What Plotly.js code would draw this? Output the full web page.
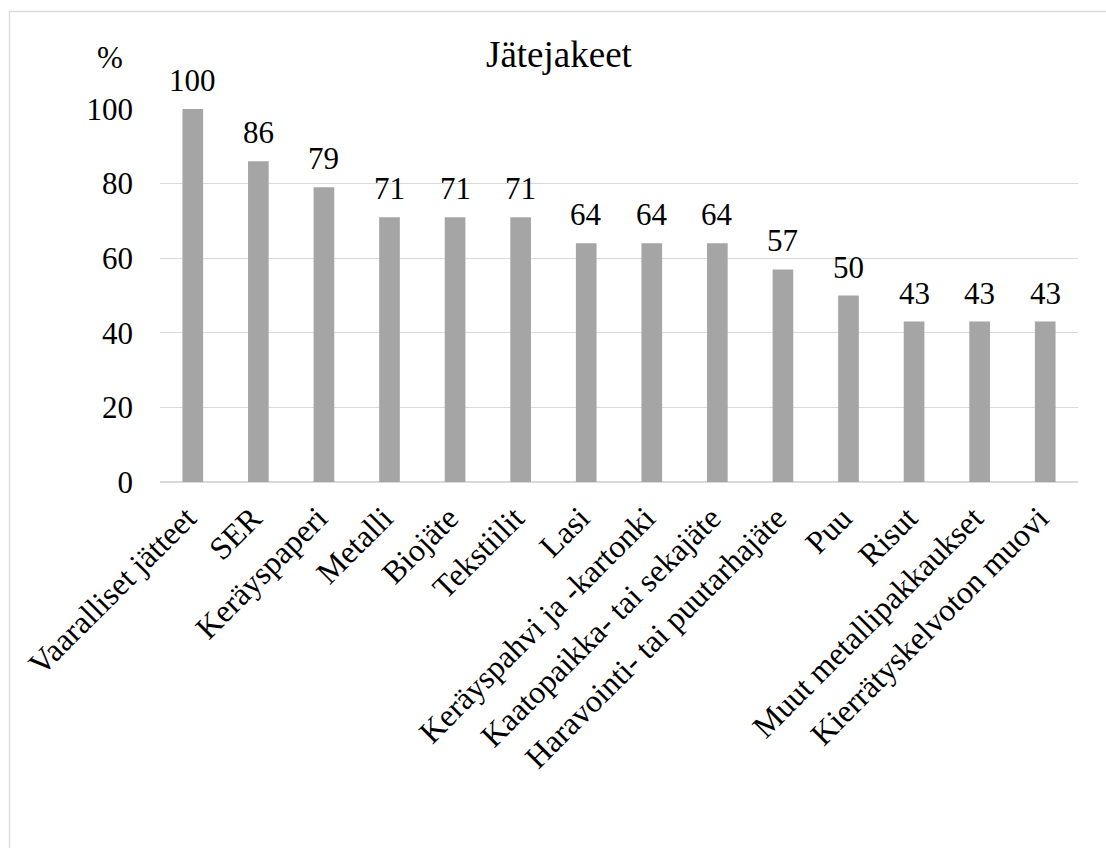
<!DOCTYPE html>
<html>
<head>
<meta charset="utf-8">
<script src="https://cdn.plot.ly/plotly-3.0.1.min.js"></script>
<style>
  html, body { margin: 0; padding: 0; background: #fff; }
  #chart { width: 1106px; height: 848px; }
</style>
</head>
<body>
<div id="chart"></div>
<script>
// Jätejakeet – osuus (%)
const categories = [
  'Vaaralliset jätteet', 'SER', 'Keräyspaperi', 'Metalli', 'Biojäte',
  'Tekstiilit', 'Lasi', 'Keräyspahvi ja -kartonki', 'Kaatopaikka- tai sekajäte',
  'Haravointi- tai puutarhajäte', 'Puu', 'Risut', 'Muut metallipakkaukset',
  'Kierrätyskelvoton muovi'
];
const values = [100, 86, 79, 71, 71, 71, 64, 64, 64, 57, 50, 43, 43, 43];
const yTicks = [0, 20, 40, 60, 80, 100];

const FONT = '"Liberation Serif", "Times New Roman", serif';
const W = 1106, H = 848;
const L = 160, R = 28, T = 109, B = 366;
const pw = W - L - R, ph = H - T - B;
const px = v => (v - L) / pw;          // pixel x -> paper x
const py = v => (H - B - v) / ph;      // pixel y -> paper y

const trace = {
  type: 'bar',
  x: categories,
  y: values,
  marker: { color: '#a5a5a5', line: { width: 0 } },
  hoverinfo: 'x+y'
};

// value labels above each bar
const valueLabels = categories.map((c, i) => ({
  x: c, y: values[i], xref: 'x', yref: 'y',
  text: String(values[i]), showarrow: false,
  yanchor: 'bottom', yshift: 9,
  font: { family: FONT, size: 31, color: '#000' }
}));

const layout = {
  width: W, height: H,
  margin: { l: L, r: R, t: T, b: B },
  paper_bgcolor: '#fff',
  plot_bgcolor: '#fff',
  showlegend: false,
  bargap: 0.685,
  font: { family: FONT, size: 31, color: '#000' },
  xaxis: {
    type: 'category',
    tickangle: -45,
    showgrid: false,
    showline: false,
    ticks: '',
    ticklabelstandoff: 10,
    ticklabelshift: -6,
    tickfont: { family: FONT, size: 32, color: '#000' },
    automargin: false
  },
  yaxis: {
    range: [0, 100],
    tickvals: yTicks,
    ticktext: yTicks.map(String),
    showgrid: true,
    gridcolor: '#d9d9d9',
    gridwidth: 1.3,
    zeroline: true,
    zerolinecolor: '#d9d9d9',
    zerolinewidth: 1.3,
    showline: false,
    ticks: '',
    ticklabelstandoff: 26,
    tickfont: { family: FONT, size: 31, color: '#000' },
    automargin: false
  },
  annotations: valueLabels.concat([
    {
      text: 'Jätejakeet', xref: 'paper', yref: 'paper',
      x: px(559), y: py(55), xanchor: 'center', yanchor: 'middle',
      showarrow: false, font: { family: FONT, size: 37, color: '#000' }
    },
    {
      text: '%', xref: 'paper', yref: 'paper',
      x: px(110), y: py(58), xanchor: 'center', yanchor: 'middle',
      showarrow: false, font: { family: FONT, size: 31, color: '#000' }
    }
  ]),
  shapes: [
    {
      type: 'rect', xref: 'paper', yref: 'paper', layer: 'below',
      x0: px(9.5), x1: px(1120), y0: py(860), y1: py(11.5),
      line: { color: '#d9d9d9', width: 1.3 }, fillcolor: 'rgba(0,0,0,0)'
    }
  ]
};

Plotly.newPlot('chart', [trace], layout, { displayModeBar: false, staticPlot: true });
</script>
</body>
</html>
